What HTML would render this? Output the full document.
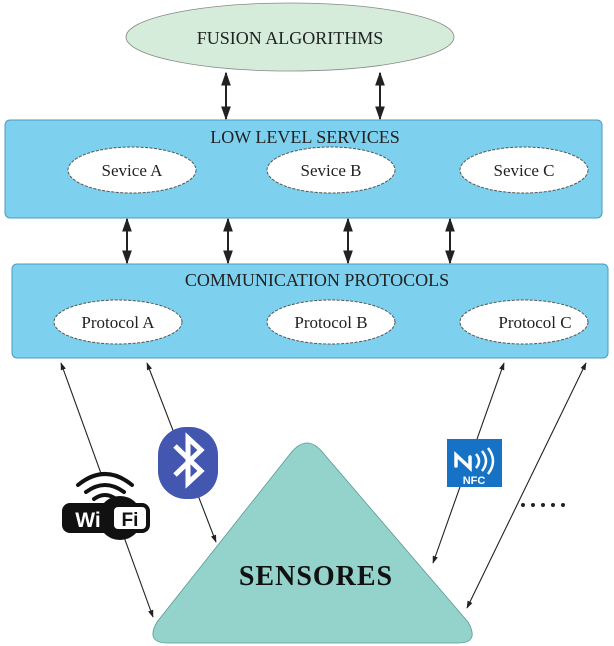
<!DOCTYPE html>
<html><head><meta charset="utf-8"><style>
html,body{margin:0;padding:0;background:#fff;}
svg{display:block;}
text{font-family:"Liberation Serif",serif;}
</style></head><body>
<svg width="614" height="646" viewBox="0 0 614 646" xmlns="http://www.w3.org/2000/svg">
<defs>
<marker id="ah" viewBox="0 0 10 10" refX="9" refY="5" markerWidth="7" markerHeight="7" orient="auto-start-reverse">
<path d="M0,1.5 L10,5 L0,8.5 z" fill="#222"/></marker>
</defs>
<ellipse cx="290" cy="37" rx="164" ry="34" fill="#d4ecd9" stroke="#888" stroke-width="0.8"/>
<text x="290" y="44" font-size="18" text-anchor="middle" fill="#222">FUSION ALGORITHMS</text>
<g stroke="#222" stroke-width="2" marker-start="url(#ah)" marker-end="url(#ah)">
<line x1="226" y1="73" x2="226" y2="119"/>
<line x1="380" y1="73" x2="380" y2="119"/>
<line x1="127" y1="219" x2="127" y2="263"/>
<line x1="228" y1="219" x2="228" y2="263"/>
<line x1="348" y1="219" x2="348" y2="263"/>
<line x1="450" y1="219" x2="450" y2="263"/>
</g>
<rect x="5" y="120" width="597" height="98" rx="5" fill="#7dd0ee" stroke="#4a9cc0" stroke-width="1"/>
<text x="305" y="143" font-size="18" text-anchor="middle" fill="#222">LOW LEVEL SERVICES</text>
<g fill="#fff" stroke="#555" stroke-width="1" stroke-dasharray="3,1.5">
<ellipse cx="132" cy="170" rx="64" ry="23"/>
<ellipse cx="331" cy="170" rx="64" ry="23"/>
<ellipse cx="524" cy="170" rx="64" ry="23"/>
</g>
<g font-size="17" text-anchor="middle" fill="#222">
<text x="132" y="176">Sevice A</text><text x="331" y="176">Sevice B</text><text x="524" y="176">Sevice C</text>
</g>
<rect x="12" y="264" width="596" height="94" rx="5" fill="#7dd0ee" stroke="#4a9cc0" stroke-width="1"/>
<text x="317" y="286" font-size="18" text-anchor="middle" fill="#222">COMMUNICATION PROTOCOLS</text>
<g fill="#fff" stroke="#555" stroke-width="1" stroke-dasharray="3,1.5">
<ellipse cx="118" cy="322" rx="64" ry="22"/>
<ellipse cx="331" cy="322" rx="64" ry="22"/>
<ellipse cx="524" cy="322" rx="64" ry="22"/>
</g>
<g font-size="17" text-anchor="middle" fill="#222">
<text x="118" y="328">Protocol A</text><text x="331" y="328">Protocol B</text><text x="535" y="328">Protocol C</text>
</g>
<path d="M290,454 Q307,432 324,454 L468,622 Q480,643 458,643 L168,643 Q145,643 157,622 Z" fill="#93d3cc" stroke="#5a9a94" stroke-width="0.8"/>
<text x="316" y="585" font-size="28" font-weight="bold" letter-spacing="1" text-anchor="middle" fill="#111">SENSORES</text>
<g stroke="#222" stroke-width="1.1" marker-start="url(#ah)" marker-end="url(#ah)">
<line x1="61" y1="363" x2="153" y2="617"/>
<line x1="147" y1="363" x2="216" y2="542"/>
<line x1="504" y1="363" x2="433" y2="563"/>
<line x1="586" y1="363" x2="467" y2="608"/>
</g>
<rect x="66" y="474" width="72" height="30" fill="#fff"/>
<g fill="none" stroke="#111" stroke-width="4" stroke-linecap="round">
<path d="M78,485 Q105,463 132,485"/>
<path d="M86,492 Q105,478 124,492"/>
<path d="M94,499 Q105,491 116,499"/>
</g>
<rect x="62" y="503" width="88" height="30" rx="8" fill="#111"/>
<ellipse cx="120" cy="518" rx="22" ry="22" fill="#111"/>
<rect x="114" y="507" width="32" height="22" rx="4" fill="#fff"/>
<text x="88" y="527" font-size="21" font-weight="bold" fill="#fff" text-anchor="middle" style="font-family:'Liberation Sans',sans-serif">Wi</text>
<text x="130" y="526" font-size="19" font-weight="bold" fill="#111" text-anchor="middle" style="font-family:'Liberation Sans',sans-serif">Fi</text>
<rect x="158" y="427" width="60" height="72" rx="28" fill="#4356b0"/>
<path d="M175,446 L201,471 L188,483 L188,438 L201,450 L175,475" fill="none" stroke="#fff" stroke-width="5"/>
<rect x="447" y="439" width="55" height="48" fill="#1672c4"/>
<path d="M456,466 L456,455 L470,468 L470,457" fill="none" stroke="#fff" stroke-width="3.5" stroke-linecap="round"/>
<path d="M476,454 Q482,461 476,468 M482,451 Q490,461 482,471 M488,448 Q498,461 488,474" fill="none" stroke="#fff" stroke-width="2.5"/>
<text x="474" y="484" font-size="11" font-weight="bold" fill="#fff" text-anchor="middle" style="font-family:'Liberation Sans',sans-serif">NFC</text>
<rect x="540" y="486" width="12" height="30" fill="#fff"/>
<g fill="#222"><circle cx="523" cy="505" r="2"/><circle cx="533" cy="505" r="2"/><circle cx="543" cy="505" r="2"/><circle cx="553" cy="505" r="2"/><circle cx="563" cy="505" r="2"/></g>
</svg>
</body></html>
